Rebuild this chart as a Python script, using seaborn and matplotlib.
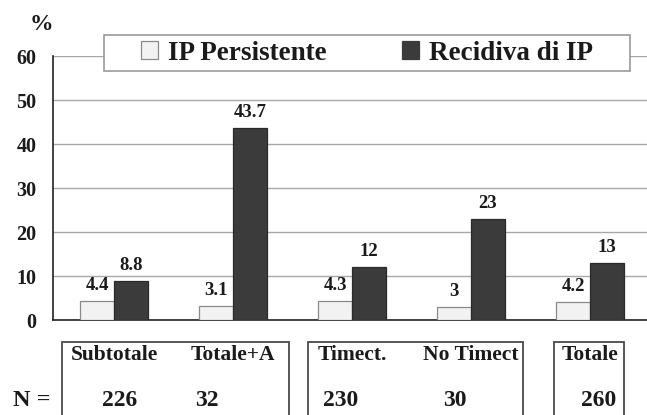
import matplotlib
matplotlib.use("Agg")
import matplotlib.pyplot as plt
import matplotlib.transforms as mtransforms
from matplotlib.patches import Patch, Rectangle
import seaborn as sns
import pandas as pd

# ---- data ----
categories = ["Subtotale", "Totale+A", "Timect.", "No Timect", "Totale"]
n_values = ["226", "32", "230", "30", "260"]
series_names = ["IP Persistente", "Recidiva di IP"]
ip_persistente = [4.4, 3.1, 4.3, 3.0, 4.2]
recidiva_ip = [8.8, 43.7, 12.0, 23.0, 13.0]
y_ticks = [0, 10, 20, 30, 40, 50, 60]

df = pd.DataFrame({
    "group": categories * 2,
    "series": [series_names[0]] * len(categories) + [series_names[1]] * len(categories),
    "value": ip_persistente + recidiva_ip,
})

# ---- style ----
sns.set_style("white")
plt.rcParams["font.family"] = ["Liberation Serif", "DejaVu Serif"]
plt.rcParams["font.weight"] = "bold"

W, H = 647, 415
fig = plt.figure(figsize=(W / 100, H / 100), dpi=100)
ax = fig.add_axes([53 / W, (H - 320) / H, (W - 53) / W, (320 - 56) / H])

light = "#f2f2f2"
dark = "#3b3b3b"

sns.barplot(data=df, x="group", y="value", hue="series", order=categories,
            hue_order=series_names, palette=[light, dark], saturation=1,
            width=0.57, ax=ax, legend=False, zorder=3)

edge_cols = ["#8a8a8a", "#2a2a2a"]
for cont, ec in zip(ax.containers, edge_cols):
    for bar in cont:
        bar.set_edgecolor(ec)
        bar.set_linewidth(0.9)
    ax.bar_label(cont, fmt="{:g}", padding=5, fontsize=13.5, fontweight="bold",
                 color="#1a1a1a")

ax.set_xlim((53 - 114) / 119, (647 - 114) / 119)
ax.set_ylim(0, 60)
ax.set_yticks(y_ticks)
ax.set_yticklabels([str(t) for t in y_ticks], fontsize=14.5, fontweight="bold")
ax.set_xticks(range(len(categories)))
ax.set_xticklabels([])
ax.set_xticks([i + 0.5 for i in range(len(categories) - 1)], minor=True)
ax.tick_params(axis="x", which="major", length=0)
ax.tick_params(axis="x", which="minor", length=4.5, width=1, color="#222222",
               direction="out")
ax.tick_params(axis="y", length=3.8, width=1, color="#222222", pad=8,
               direction="out", labelcolor="#1a1a1a")
ax.set_xlabel("")
ax.set_ylabel("")

ax.grid(axis="y", color="#a8a8a8", linewidth=1)
ax.grid(axis="x", visible=False)
ax.set_axisbelow(True)
for s in ["top", "right"]:
    ax.spines[s].set_visible(False)
for s in ["left", "bottom"]:
    ax.spines[s].set_color("#222222")
    ax.spines[s].set_linewidth(1.2)

# "%" label
fig.text(41 / W, 1 - 24 / H, "%", fontsize=17, ha="center", va="center",
         fontweight="bold", color="#1a1a1a")

# legend with rectangular frame
frame = Rectangle((104 / W, 1 - 71 / H), (630 - 104) / W, (71 - 35) / H,
                  transform=fig.transFigure, facecolor="white",
                  edgecolor="#9a9a9a", linewidth=1.2, zorder=5)
fig.patches.append(frame)
handles = [Patch(facecolor=light, edgecolor="#8a8a8a", linewidth=0.9),
           Patch(facecolor=dark, edgecolor=dark, linewidth=0.9)]
leg = fig.legend(handles, series_names, ncol=2, loc="center",
                 bbox_to_anchor=(367 / W, 1 - 53 / H), frameon=False,
                 prop={"family": "Liberation Serif", "weight": "bold", "size": 19.5},
                 handlelength=0.63, handleheight=0.6, handletextpad=0.37,
                 columnspacing=2.75, borderpad=0.1)
leg.set_zorder(6)
for t in leg.get_texts():
    t.set_color("#1a1a1a")

# table below the axis
boxes = [(62, 289), (308, 523), (554, 624)]
for x0, x1 in boxes:
    fig.patches.append(Rectangle((x0 / W, -0.1), (x1 - x0) / W, 0.1 + (H - 342) / H,
                                 transform=fig.transFigure, facecolor="none",
                                 edgecolor="#4a4a4a", linewidth=1.3, zorder=5))

blend = mtransforms.blended_transform_factory(ax.transData, fig.transFigure)
for i, cat in enumerate(categories):
    ax.text(i, 1 - 355 / H, cat, transform=blend, ha="center", va="center",
            fontsize=15.5, fontweight="bold", color="#1a1a1a", clip_on=False)

n_offsets_px = [6, -26, -11, -16, 9]
for i, (nv, off) in enumerate(zip(n_values, n_offsets_px)):
    ax.text(i + off / 119, 1 - 400 / H, nv, transform=blend, ha="center",
            va="center", fontsize=17, fontweight="bold", color="#1a1a1a",
            clip_on=False)
fig.text(32 / W, 1 - 400 / H, "N =", ha="center", va="center", fontsize=17.5,
         fontweight="bold", color="#1a1a1a")

fig.savefig("out.png", dpi=100)
